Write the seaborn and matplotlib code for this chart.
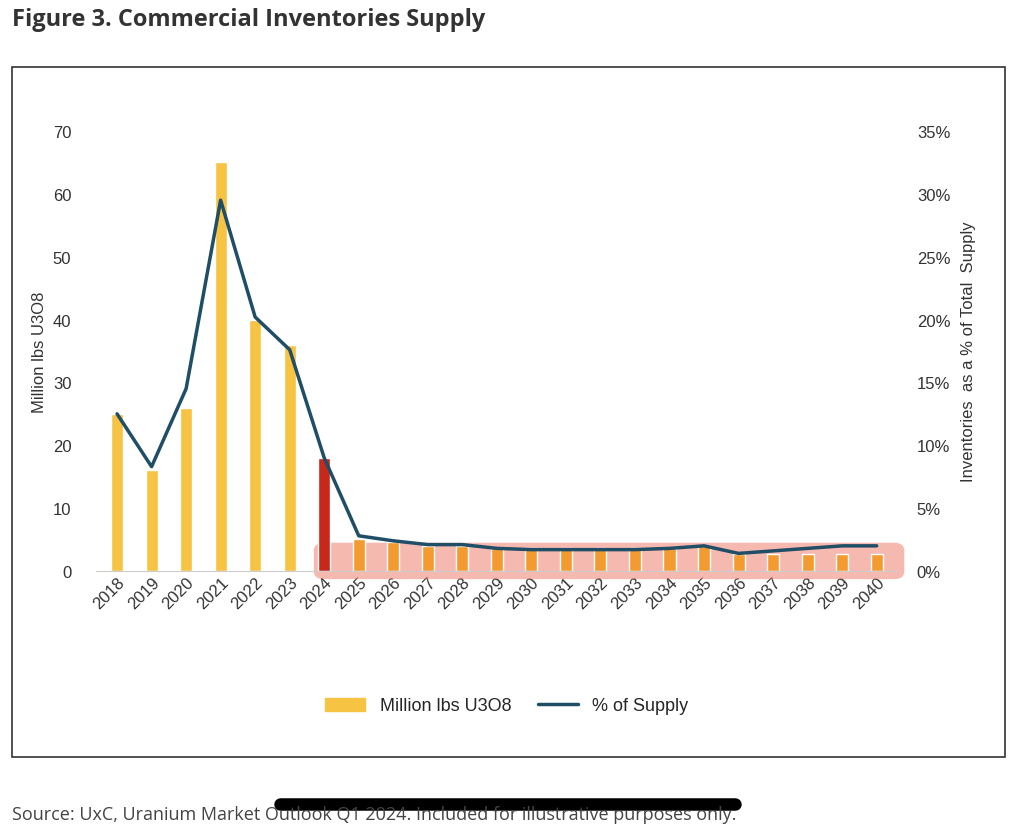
import matplotlib
matplotlib.use("Agg")
import matplotlib.pyplot as plt
import seaborn as sns
import pandas as pd
from matplotlib.patches import FancyBboxPatch, Rectangle, Patch
from matplotlib.lines import Line2D
from matplotlib.ticker import FuncFormatter

sns.set_style("white")
plt.rcParams['font.family'] = ['Liberation Sans', 'DejaVu Sans']

years = [str(y) for y in range(2018, 2041)]
million_lbs = [25, 16, 26, 65, 40, 36, 18, 5.1, 4.6, 4.0, 4.0, 3.6, 3.6, 3.6, 3.6, 3.6, 3.6, 4.0,
               2.7, 2.7, 2.7, 2.7, 2.7]
pct_supply = [12.5, 8.3, 14.5, 29.5, 20.2, 17.6, 9.0, 2.8, 2.4, 2.1, 2.1, 1.8, 1.7, 1.7, 1.7, 1.7,
              1.8, 2.0, 1.4, 1.6, 1.8, 2.0, 2.0]
bar_colors = ["#f6c343"] * 7 + ["#f39a30"] * 16
bar_colors[6] = "#c8281c"

df = pd.DataFrame({"year": years, "lbs": million_lbs, "pct": pct_supply})

fig = plt.figure(figsize=(10.14, 8.28), dpi=100)
fig.patches.append(Rectangle((12/1014, 1-758/828), 993/1014, 690/828, transform=fig.transFigure,
                             fill=False, edgecolor="#333333", lw=1.2))
ax = fig.add_axes([0.095, 1-572/828, 0.79, 440/828])
sns.barplot(data=df, x="year", y="lbs", hue="year", palette=bar_colors, legend=False,
            width=0.35, ax=ax, zorder=2, saturation=1)
ax.set_ylim(0, 70)
ax.set_xlim(-0.6, len(years) - 0.4)
ax.set_yticks(range(0, 71, 10))
ax.set_ylabel("Million lbs U3O8", fontsize=12, color="#333")
ax.set_xlabel("")
ax.tick_params(axis="x", rotation=45, labelsize=12, colors="#333", pad=2, length=0)
ax.tick_params(axis="y", labelsize=12, colors="#333", pad=18, length=0)
for lbl in ax.get_xticklabels():
    lbl.set_ha("right"); lbl.set_rotation_mode("anchor")
for s in ["top", "left", "right"]:
    ax.spines[s].set_visible(False)
ax.spines["bottom"].set_color("#cccccc")

ax.add_patch(FancyBboxPatch((5.7, -1.3), 17.1, 5.8, boxstyle="round,pad=0,rounding_size=0.3",
                            facecolor="#f08070", alpha=0.55, edgecolor="none", zorder=1,
                            clip_on=False, mutation_aspect=4))

ax2 = ax.twinx()
ax2.plot(range(len(years)), pct_supply, color="#1f4e66", lw=2.5, zorder=4)
ax2.set_ylim(0, 35)
ax2.set_yticks(range(0, 36, 5))
ax2.yaxis.set_major_formatter(FuncFormatter(lambda v, p: f"{int(v)}%"))
ax2.set_ylabel("Inventories  as a % of Total  Supply", fontsize=12, color="#333", labelpad=8)
ax2.tick_params(axis="y", labelsize=12, colors="#333", pad=14, length=0)
for s in ["top", "left", "right", "bottom"]:
    ax2.spines[s].set_visible(False)

handles = [Patch(color="#f6c343"), Line2D([0], [0], color="#1f4e66", lw=2.5)]
fig.legend(handles, ["Million lbs U3O8", "% of Supply"], loc="center", bbox_to_anchor=(0.5, 1-707/828),
           ncol=2, frameon=False, fontsize=13, handlelength=2.2, columnspacing=1.5)

fig.text(12/1014, 1-20/828, "Figure 3. Commercial Inventories Supply", fontsize=17, fontweight="bold",
         color="#333", va="center", family=["Open Sans", "DejaVu Sans"])
fig.text(12/1014, 1-815/828, "Source: UxC, Uranium Market Outlook Q1 2024. Included for illustrative purposes only.",
         fontsize=13, color="#444", va="center", family=["Open Sans", "DejaVu Sans"])
fig.add_artist(Line2D([280/1014, 735/1014], [1-805/828, 1-805/828], color="black", lw=9,
                      solid_capstyle="round", transform=fig.transFigure))

fig.savefig("out.png", dpi=100)
